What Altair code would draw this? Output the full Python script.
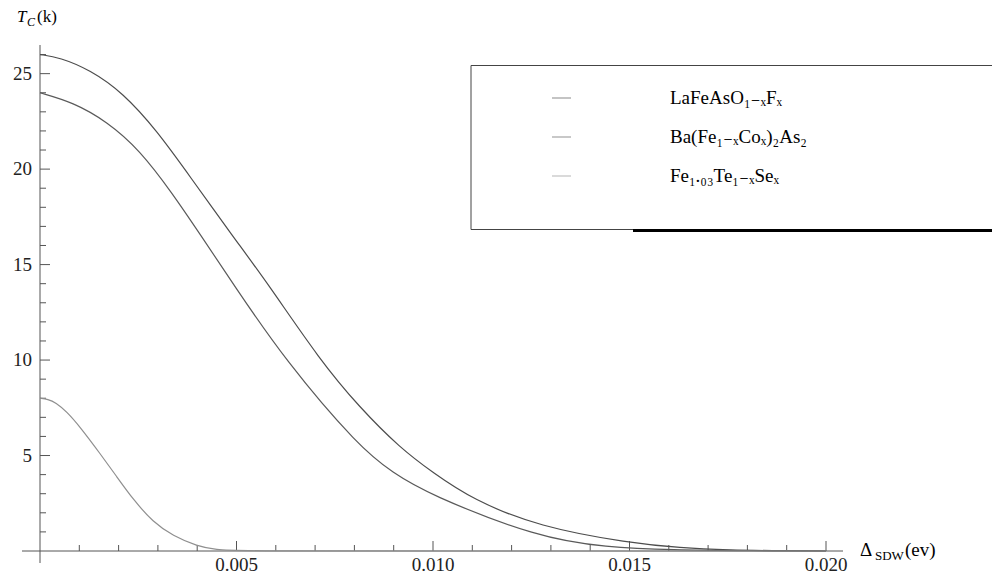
import altair as alt
import pandas as pd

SERIF = "Liberation Serif, DejaVu Serif, serif"

# ---- data ----
materials = ["LaFeAsO₁₋ₓFₓ", "Ba(Fe₁₋ₓCoₓ)₂As₂", "Fe₁.₀₃Te₁₋ₓSeₓ"]

delta_la = [0, 0.0005, 0.00127, 0.00211, 0.00298, 0.00382, 0.0049, 0.0058,
            0.00712, 0.00814, 0.00916, 0.0100, 0.0110, 0.0127, 0.0150,
            0.0163, 0.0175, 0.019, 0.020]
tc_la = [26.0, 25.85, 25.2, 24.0, 22.0, 19.6, 16.5, 14.0,
         10.0, 7.5, 5.4, 4.1, 2.7, 1.26, 0.42,
         0.16, 0.05, 0.01, 0.0]

delta_ba = [0, 0.00084, 0.0017, 0.00254, 0.00338, 0.00407, 0.00491, 0.00623,
            0.00814, 0.00898, 0.00985, 0.0127, 0.0144, 0.0161, 0.018, 0.020]
tc_ba = [24.0, 23.5, 22.5, 21.0, 18.7, 16.6, 14.0, 10.0,
         5.4, 4.1, 3.0, 0.68, 0.2, 0.05, 0.01, 0.0]

delta_fe = [0, 0.0002, 0.0004, 0.00068, 0.00102, 0.00153, 0.00195, 0.00237,
            0.00288, 0.00338, 0.0040, 0.0045, 0.005, 0.010, 0.020]
tc_fe = [8.0, 7.95, 7.78, 7.3, 6.5, 5.1, 3.9, 2.7,
         1.5, 0.8, 0.25, 0.06, 0.0, 0.0, 0.0]

line_colors = ["#4d4d4d", "#5a5a5a", "#8f8f8f"]

x_labels = [0.005, 0.010, 0.015, 0.020]
x_minor = [0.001, 0.002, 0.003, 0.004, 0.006, 0.007, 0.008, 0.009,
           0.011, 0.012, 0.013, 0.014, 0.016, 0.017, 0.018, 0.019]
y_labels = [5, 10, 15, 20, 25]
y_minor = [1, 2, 3, 4, 6, 7, 8, 9, 11, 12, 13, 14, 16, 17, 18, 19,
           21, 22, 23, 24, 26]

rows = []
for name, xs, ys in zip(materials, [delta_la, delta_ba, delta_fe], [tc_la, tc_ba, tc_fe]):
    for x, y in zip(xs, ys):
        rows.append({"delta": x, "tc": y, "material": name})
df = pd.DataFrame(rows)

W, H = 786, 506
x_scale = alt.Scale(domain=[0, 0.02], nice=False, zero=False)
y_scale = alt.Scale(domain=[0, 26.5], nice=False)

lines = alt.Chart(df).mark_line(strokeWidth=1.2, interpolate="basis").encode(
    x=alt.X("delta:Q", scale=x_scale, axis=None),
    y=alt.Y("tc:Q", scale=y_scale, axis=None),
    color=alt.Color("material:N",
                    scale=alt.Scale(domain=materials, range=line_colors),
                    legend=alt.Legend(orient="none", legendX=511, legendY=42.5,
                                      title=None, symbolType="stroke", symbolSize=361,
                                      symbolStrokeWidth=1.2, symbolOpacity=0.55,
                                      labelOffset=98, labelFont=SERIF, labelFontSize=19,
                                      labelColor="black", labelLimit=400,
                                      rowPadding=18, padding=0)),
)

one = alt.Data(values=[{}])

x_tick_df = pd.DataFrame({"delta": x_labels})
x_minor_df = pd.DataFrame({"delta": x_minor})
y_tick_df = pd.DataFrame({"tc": y_labels})
y_minor_df = pd.DataFrame({"tc": y_minor})

tick_color = "#555555"
x_major_rules = alt.Chart(x_tick_df).mark_rule(color=tick_color, strokeWidth=1).encode(
    x=alt.X("delta:Q", scale=x_scale, axis=None), y=alt.value(H), y2=alt.value(H - 10))
x_minor_rules = alt.Chart(x_minor_df).mark_rule(color=tick_color, strokeWidth=1).encode(
    x=alt.X("delta:Q", scale=x_scale, axis=None), y=alt.value(H), y2=alt.value(H - 6))
y_major_rules = alt.Chart(y_tick_df).mark_rule(color=tick_color, strokeWidth=1).encode(
    y=alt.Y("tc:Q", scale=y_scale, axis=None), x=alt.value(0), x2=alt.value(10))
y_minor_rules = alt.Chart(y_minor_df).mark_rule(color=tick_color, strokeWidth=1).encode(
    y=alt.Y("tc:Q", scale=y_scale, axis=None), x=alt.value(0), x2=alt.value(6))

x_tick_text = alt.Chart(x_tick_df).mark_text(
    align="center", baseline="alphabetic", font=SERIF, fontSize=19, color="#222"
).encode(x=alt.X("delta:Q", scale=x_scale, axis=None), y=alt.value(H + 20),
         text=alt.Text("delta:Q", format=".3f"))
y_tick_text = alt.Chart(y_tick_df).mark_text(
    align="right", baseline="middle", font=SERIF, fontSize=19, color="#222"
).encode(y=alt.Y("tc:Q", scale=y_scale, axis=None), x=alt.value(-8),
         text=alt.Text("tc:Q", format="d"))

x_axis_line = alt.Chart(one).mark_rule(color="#555555", strokeWidth=1).encode(
    x=alt.value(-18), x2=alt.value(803), y=alt.value(H))
y_axis_line = alt.Chart(one).mark_rule(color="#555555", strokeWidth=1).encode(
    x=alt.value(0), y=alt.value(0), y2=alt.value(H + 12))

legend_box = alt.Chart(one).mark_rect(fill="white", stroke="#444444", strokeWidth=1).encode(
    x=alt.value(431), x2=alt.value(990), y=alt.value(20.5), y2=alt.value(184.5))
legend_bar = alt.Chart(one).mark_rule(color="black", strokeWidth=3).encode(
    x=alt.value(593), x2=alt.value(990), y=alt.value(185.5))


def txt(s, x, y, size, italic=False):
    return alt.Chart(one).mark_text(
        text=s, align="left", baseline="alphabetic", font=SERIF, fontSize=size,
        fontStyle="italic" if italic else "normal", color="black"
    ).encode(x=alt.value(x), y=alt.value(y))


titles = [
    txt("T", -23, -23, 17, italic=True),
    txt("C", -13, -19, 12, italic=True),
    txt("(k)", -3, -23, 17),
    txt("Δ", 820, 511, 19),
    txt("SDW", 835, 515, 13),
    txt("(ev)", 865, 511, 19),
]

chart = alt.layer(
    legend_box, legend_bar, x_axis_line, y_axis_line,
    x_minor_rules, x_major_rules, y_minor_rules, y_major_rules,
    x_tick_text, y_tick_text,
    lines, *titles
).properties(
    width=W, height=H, autosize="none",
    padding={"left": 32, "top": 37, "right": 166, "bottom": 24},
).configure_view(strokeWidth=0)

chart.save("out.html", embed_options={"renderer": "svg", "actions": False})
